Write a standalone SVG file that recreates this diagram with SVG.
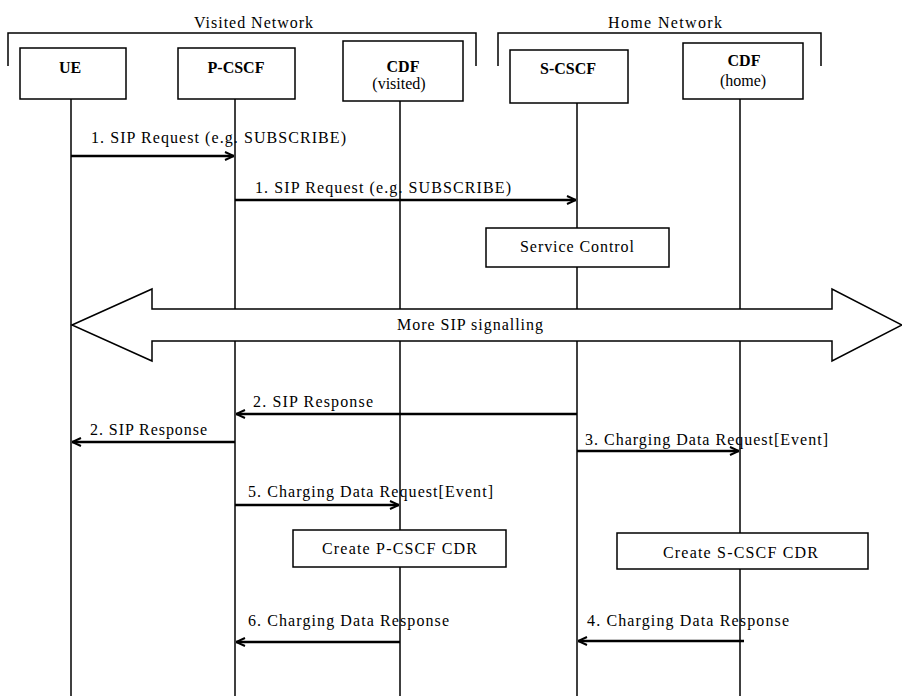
<svg xmlns="http://www.w3.org/2000/svg" width="902" height="696" viewBox="0 0 902 696">
<style>
text{font-family:'Liberation Serif','Times New Roman','DejaVu Serif',serif;font-size:16px;fill:#000}
.b{font-weight:bold}
.box{fill:#fff;stroke:#000;stroke-width:1.5}
.life{stroke:#000;stroke-width:1.5;fill:none}
.br{stroke:#000;stroke-width:1.5;fill:none}
.msg{stroke:#000;stroke-width:2.5;fill:none}
</style>
<defs>
<marker id="ah" viewBox="0 0 10 10" refX="10" refY="5" markerWidth="10" markerHeight="10" markerUnits="userSpaceOnUse" orient="auto">
<path d="M1,1 L10,5 L1,9" fill="none" stroke="#000" stroke-width="2"/>
</marker>
</defs>
<rect width="902" height="696" fill="#fff"/>
<g id="brackets">
<path class="br" d="M8,66 V33 H476 V66"/>
<text x="194" y="28" textLength="119" lengthAdjust="spacing">Visited Network</text>
<path class="br" d="M498,66 V33 H821 V66"/>
<text x="608" y="28" textLength="114" lengthAdjust="spacing">Home Network</text>
</g>
<g id="lifelines">
<line class="life" x1="71" y1="99" x2="71" y2="696"/>
<line class="life" x1="235" y1="99" x2="235" y2="696"/>
<line class="life" x1="400" y1="101" x2="400" y2="696"/>
<line class="life" x1="577" y1="103" x2="577" y2="696"/>
<line class="life" x1="740" y1="99" x2="740" y2="696"/>
</g>
<g id="ue"><rect class="box" x="20" y="48" width="106" height="51"/><text class="b" x="70" y="73" text-anchor="middle">UE</text></g>
<g id="pcscf"><rect class="box" x="178" y="48" width="117" height="51"/><text class="b" x="236" y="73" text-anchor="middle">P-CSCF</text></g>
<g id="cdfv"><rect class="box" x="343" y="41" width="120" height="60"/><text class="b" x="403" y="72" text-anchor="middle">CDF</text><text x="399" y="89" text-anchor="middle">(visited)</text></g>
<g id="scscf"><rect class="box" x="510" y="50" width="118" height="53"/><text class="b" x="568" y="74" text-anchor="middle">S-CSCF</text></g>
<g id="cdfh"><rect class="box" x="683" y="43" width="120" height="56"/><text class="b" x="744" y="66" text-anchor="middle">CDF</text><text x="743" y="86" text-anchor="middle">(home)</text></g>
<g id="svc"><rect class="box" x="486" y="228" width="183" height="39"/><text x="520" y="252" textLength="114" lengthAdjust="spacing">Service Control</text></g>
<g id="more">
<path class="box" d="M72,325 L152,289 V309 H832 V289 L902,325 L832,361 V341 H152 V361 Z"/>
<text x="397" y="330" textLength="146" lengthAdjust="spacing">More SIP signalling</text>
</g>
<g id="pcdr"><rect class="box" x="293" y="530" width="213" height="37"/><text x="322" y="554" textLength="155" lengthAdjust="spacing">Create P-CSCF CDR</text></g>
<g id="scdr"><rect class="box" x="617" y="533" width="251" height="36"/><text x="663" y="558" textLength="155" lengthAdjust="spacing">Create S-CSCF CDR</text></g>
<g id="connectors">
<line class="msg" x1="71" y1="156" x2="234" y2="156" marker-end="url(#ah)"/>
<line class="msg" x1="235" y1="200" x2="576" y2="200" marker-end="url(#ah)"/>
<line class="msg" x1="577" y1="414" x2="236" y2="414" marker-end="url(#ah)"/>
<line class="msg" x1="235" y1="442" x2="72" y2="442" marker-end="url(#ah)"/>
<line class="msg" x1="577" y1="451" x2="739" y2="451" marker-end="url(#ah)"/>
<line class="msg" x1="235" y1="505" x2="399" y2="505" marker-end="url(#ah)"/>
<line class="msg" x1="744" y1="641" x2="578" y2="641" marker-end="url(#ah)"/>
<line class="msg" x1="400" y1="642" x2="236" y2="642" marker-end="url(#ah)"/>
</g>
<g id="labels">
<text x="91" y="143" textLength="255" lengthAdjust="spacing">1. SIP Request (e.g. SUBSCRIBE)</text>
<text x="255" y="193" textLength="256" lengthAdjust="spacing">1. SIP Request (e.g. SUBSCRIBE)</text>
<text x="253" y="407" textLength="120" lengthAdjust="spacing">2. SIP Response</text>
<text x="90" y="435" textLength="117" lengthAdjust="spacing">2. SIP Response</text>
<text x="585" y="445" textLength="243" lengthAdjust="spacing">3. Charging Data Request[Event]</text>
<text x="248" y="497" textLength="245" lengthAdjust="spacing">5. Charging Data Request[Event]</text>
<text x="587" y="626" textLength="202" lengthAdjust="spacing">4. Charging Data Response</text>
<text x="248" y="626" textLength="201" lengthAdjust="spacing">6. Charging Data Response</text>
</g>
</svg>
